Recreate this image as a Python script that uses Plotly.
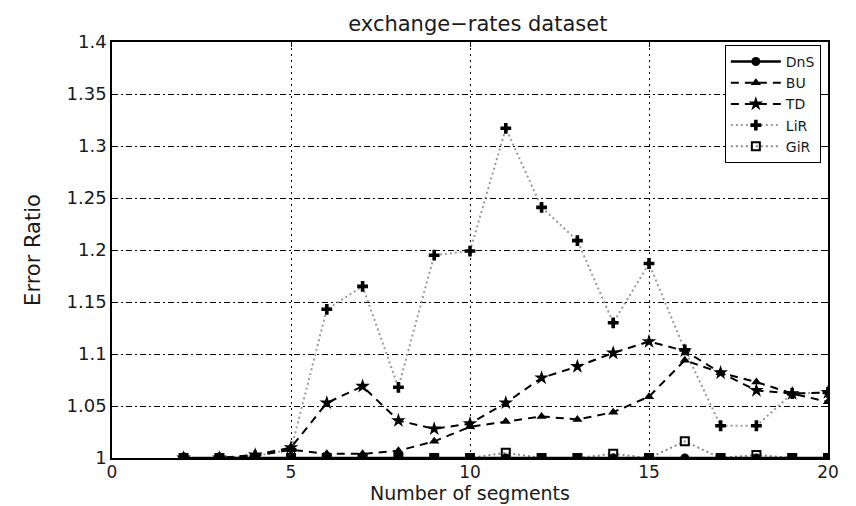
import plotly.graph_objects as go

segments = [2, 3, 4, 5, 6, 7, 8, 9, 10, 11, 12, 13, 14, 15, 16, 17, 18, 19, 20]
dns = [1.000, 1.000, 1.000, 1.000, 1.000, 1.000, 1.000, 1.000, 1.000, 1.000,
       1.000, 1.000, 1.000, 1.000, 1.000, 1.000, 1.000, 1.000, 1.000]
bu = [1.000, 1.000, 1.002, 1.008, 1.004, 1.004, 1.007, 1.016, 1.030, 1.035,
      1.040, 1.037, 1.044, 1.059, 1.094, 1.082, 1.073, 1.062, 1.054]
td = [1.000, 1.000, 1.003, 1.010, 1.053, 1.069, 1.036, 1.028, 1.033, 1.053,
      1.077, 1.088, 1.101, 1.112, 1.103, 1.082, 1.065, 1.062, 1.063]
lir = [1.000, 1.000, 1.002, 1.008, 1.143, 1.165, 1.068, 1.195, 1.199, 1.317,
       1.241, 1.209, 1.130, 1.187, 1.104, 1.031, 1.031, 1.062, 1.063]
gir = [1.000, 1.000, 1.000, 1.000, 1.000, 1.000, 1.000, 1.000, 1.000, 1.005,
       1.000, 1.000, 1.004, 1.000, 1.016, 1.000, 1.003, 1.000, 1.000]

x_ticks = [0, 5, 10, 15, 20]
y_ticks = [1, 1.05, 1.1, 1.15, 1.2, 1.25, 1.3, 1.35, 1.4]
y_tick_labels = ["1", "1.05", "1.1", "1.15", "1.2", "1.25", "1.3", "1.35", "1.4"]

FONT = "DejaVu Sans"
fig = go.Figure()

fig.add_trace(go.Scatter(x=segments, y=gir, name="GiR", mode="lines+markers",
                         line=dict(color="#8a8a8a", width=2, dash="2px,3px"),
                         marker=dict(symbol="square-open", size=8, color="black",
                                     line=dict(width=2, color="black"))))
fig.add_trace(go.Scatter(x=segments, y=lir, name="LiR", mode="lines+markers",
                         line=dict(color="#9a9a9a", width=2, dash="2px,3px"),
                         marker=dict(symbol="cross", size=9, color="black")))
fig.add_trace(go.Scatter(x=segments, y=td, name="TD", mode="lines+markers",
                         line=dict(color="black", width=2, dash="8px,6px"),
                         marker=dict(symbol="star", size=11, color="black")))
fig.add_trace(go.Scatter(x=segments, y=bu, name="BU", mode="lines+markers",
                         line=dict(color="black", width=2, dash="8px,6px"),
                         marker=dict(symbol="triangle-up", size=9, color="black")))
fig.add_trace(go.Scatter(x=segments, y=dns, name="DnS", mode="lines+markers",
                         line=dict(color="black", width=2.5),
                         marker=dict(symbol="circle", size=9, color="black")))

fig.update_layout(
    width=848, height=498,
    margin=dict(l=104, r=28, t=34, b=48, autoexpand=False),
    paper_bgcolor="white", plot_bgcolor="white",
    font=dict(family=FONT, size=18, color="#1a1a1a"),
    title=dict(text="exchange\u2212rates dataset", xref="paper", x=0.511,
               xanchor="center", yref="container", y=0.968, yanchor="middle",
               font=dict(size=21)),
    showlegend=True,
    legend=dict(x=0.990, xanchor="right", y=0.993, yanchor="top",
                bgcolor="white", bordercolor="black", borderwidth=1,
                traceorder="reversed", font=dict(size=14), itemwidth=50,
                tracegroupgap=0),
    xaxis=dict(range=[0, 20], tickvals=x_ticks, ticks="inside", ticklen=5,
               tickcolor="black", showline=True, linecolor="black", linewidth=1.5,
               mirror="ticks", showgrid=True, gridcolor="black", gridwidth=1,
               griddash="2px,4px", zeroline=False, automargin=False,
               tickfont=dict(size=17), ticklabelstandoff=-2,
               title=dict(text="Number of segments", font=dict(size=19), standoff=3)),
    yaxis=dict(range=[1, 1.4], tickvals=y_ticks, ticktext=y_tick_labels,
               ticks="inside", ticklen=5, tickcolor="black", showline=True,
               linecolor="black", linewidth=1.5, mirror="ticks", showgrid=True,
               gridcolor="black", gridwidth=1, griddash="6px,3px,2px,3px",
               zeroline=False, automargin=False,
               title=dict(text="Error Ratio", font=dict(size=21), standoff=20)),
)

fig.write_html("out.html")
